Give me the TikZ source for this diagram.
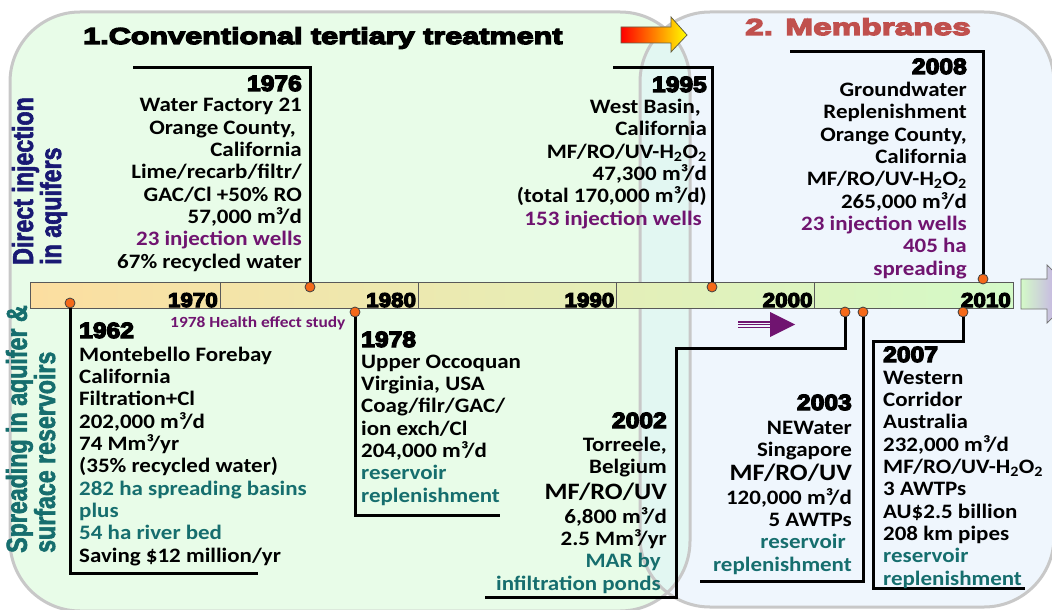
\documentclass[tikz,border=0pt]{standalone}
\usepackage{fontspec}
\setmainfont{Carlito}[BoldFeatures={FakeStretch=1.12}]
\newfontfamily\heavyfam{Liberation Sans}[BoldFeatures={FakeBold=6,FakeStretch=1.12}]
\newfontfamily\titlefam{Liberation Sans}[BoldFeatures={FakeBold=6,FakeStretch=1.33}]
\newfontfamily\membfam{Liberation Sans}[BoldFeatures={FakeBold=6,FakeStretch=1.45}]
\newfontfamily\narrowfam{Liberation Sans}[BoldFeatures={FakeBold=2,FakeStretch=0.8}]
\usetikzlibrary{positioning}

\definecolor{panelgreen}{RGB}{232,252,232}
\definecolor{panelblue}{RGB}{239,246,253}
\definecolor{overlapcyan}{RGB}{226,247,242}
\definecolor{panelline}{RGB}{200,200,200}
\definecolor{dotorange}{RGB}{245,105,25}
\definecolor{wellpurple}{RGB}{112,20,112}
\definecolor{basinteal}{RGB}{22,110,110}
\definecolor{navytext}{RGB}{25,25,115}
\definecolor{memred}{RGB}{192,80,77}
\definecolor{barpeach}{RGB}{252,222,160}
\definecolor{baryellow}{RGB}{242,238,188}
\definecolor{bargreen}{RGB}{212,250,200}
\definecolor{arrowlilac}{RGB}{190,140,245}

\newcommand{\yearfont}{\heavyfam\bfseries\fontsize{22}{24}\selectfont}
\newcommand{\tickfont}{\heavyfam\bfseries\fontsize{20}{22}\selectfont}
\newcommand{\infofont}{\bfseries\fontsize{20.5}{22.3}\selectfont}
\newcommand{\bigfont}{\bfseries\fontsize{23.5}{26}\selectfont}
\newcommand{\notefont}{\bfseries\fontsize{15.5}{17}\selectfont}
\newcommand{\wells}[1]{\textcolor{wellpurple}{#1}}
\newcommand{\basin}[1]{\textcolor{basinteal}{#1}}

\begin{document}
\begin{tikzpicture}[x=1pt,y=-1pt,
    panel/.style={draw=panelline, line width=3pt, rounded corners=70pt},
    dot/.style={circle, draw=black!75, fill=dotorange, line width=0.8pt, inner sep=0pt, minimum size=10pt},
    bracket/.style={line width=3pt},
    yearhead/.style={font=\yearfont, inner sep=0pt},
    infoR/.style={font=\infofont, align=right, inner sep=0pt, anchor=base east},
    infoL/.style={font=\infofont, align=left, inner sep=0pt, anchor=base west},
    ticklabel/.style={font=\tickfont, inner sep=0pt, anchor=base east},
    titletext/.style={inner sep=0pt, anchor=base west},
    sidelabel/.style={align=left, inner sep=0pt, anchor=base west, rotate=90}]
\useasboundingbox (0,0) rectangle (1052,610);

\path[panel, draw=none, fill=panelgreen] (10,12) rectangle (690,611);
\path[panel, draw=none, fill=panelblue] (640,12) rectangle (1054,607);
\begin{scope}
  \clip[rounded corners=70pt] (10,12) rectangle (690,611);
  \fill[overlapcyan, rounded corners=70pt] (640,12) rectangle (1054,607);
\end{scope}
\draw[panel] (10,12) rectangle (690,611);
\draw[panel] (640,12) rectangle (1054,607);

\node[titletext, font=\titlefam\bfseries\fontsize{23}{26}\selectfont] (conv) at (83,44) {1.Conventional tertiary treatment};
\node[titletext, font=\membfam\bfseries\fontsize{23}{26}\selectfont, text=memred] (memb) at (745,35) {2. Membranes};
\shadedraw[left color=red, right color=yellow, draw=black!70!yellow, line width=0.8pt]
  (621,27) -- (671,27) -- (671,17) -- (687,35) -- (671,52) -- (671,43) -- (621,43) -- cycle;

\node[sidelabel, font=\narrowfam\bfseries\fontsize{29}{28}\selectfont, text=navytext] (direct) at (61,265) {Direct injection\\in aquifers};
\node[sidelabel, font=\narrowfam\bfseries\fontsize{29}{25}\selectfont, text=basinteal] (spread) at (55,553) {Spreading in aquifer \&\\surface reservoirs};

\shade[left color=barpeach, middle color=baryellow, right color=bargreen] (30,282) rectangle (1013,308);
\draw[black!65, line width=0.8pt] (30,282) rectangle (1013,308);
\foreach \yr [count=\i from 0] in {1970,1980,1990,2000,2010} {
  \draw[black!65, line width=0.8pt] (220+198.25*\i,282) -- (220+198.25*\i,308);
  \node[ticklabel] (t\yr) at (218+198.25*\i,307) {\yr};
}
\shadedraw[left color=bargreen, right color=arrowlilac, draw=black!55, line width=0.8pt]
  (1021,279) -- (1047,279) -- (1047,265) -- (1077,294) -- (1047,323) -- (1047,309) -- (1021,309) -- cycle;
\foreach \dy in {-2.6,0,2.6}
  \draw[wellpurple, line width=1.2pt] (738,324.5+\dy) -- (772,324.5+\dy);
\fill[wellpurple] (770,312) -- (795,324.5) -- (770,337) -- cycle;

\node[dot] (d1962) at (70,303) {};
\node[dot] (d1976) at (310,287) {};
\node[dot] (d1978) at (355,312) {};
\node[dot] (d1995) at (712,287) {};
\node[dot] (d2002) at (845,312) {};
\node[dot] (d2003) at (863,312) {};
\node[dot] (d2007) at (963,312) {};
\node[dot] (d2008) at (983,279) {};

\coordinate (e1962) at (258,573);
\coordinate (e1976) at (133,68);
\coordinate (e1978) at (500,515);
\coordinate (e1995) at (613,68);
\coordinate (k2002) at (676,348);
\coordinate (e2002) at (485,597);
\coordinate (e2003) at (700,581);
\coordinate (k2007) at (873,341);
\coordinate (e2007) at (1025,588);
\coordinate (e2008) at (790,52);

\draw[bracket] (d1962.south) |- (e1962);
\draw[bracket] (d1976.north) |- (e1976);
\draw[bracket] (d1978.south) |- (e1978);
\draw[bracket] (d1995.north) |- (e1995);
\draw[bracket] (d2002.south) |- (k2002) |- (e2002);
\draw[bracket] (d2003.south) |- (e2003);
\draw[bracket] (d2007.south) |- (k2007) |- (e2007);
\draw[bracket] (d2008.north) |- (e2008);

\node[yearhead, anchor=base east] (y1976) at (302,91) {1976};
\node[infoR] (b1976) at (302,268)
  {Water Factory 21\\ Orange County,\kern6pt\\ California\\ Lime/recarb/filtr/\\ GAC/Cl +50\% RO\\
   57,000 m³/d\\ \wells{23 injection wells}\\ 67\% recycled water};

\node[yearhead, anchor=base east] (y1995) at (707,92) {1995};
\node[infoR] (b1995) at (707,225)
  {West Basin,\kern6pt\\ California\\ MF/RO/UV-H\textsubscript{2}O\textsubscript{2}\\ 47,300 m³/d\\
   (total 170,000 m³/d)\\ \wells{153 injection wells\kern5pt}};

\node[yearhead, anchor=base east] (y2008) at (967,74) {2008};
\node[infoR] (b2008) at (967,275)
  {Groundwater\\ Replenishment\\ Orange County,\\ California\\ MF/RO/UV-H\textsubscript{2}O\textsubscript{2}\\
   265,000 m³/d\\ \wells{23 injection wells}\\ \wells{405 ha}\\ \wells{spreading}};

\node[yearhead, anchor=base west] (y1962) at (79,338) {1962};
\node[infoL] (b1962) at (79,562)
  {Montebello Forebay\\ California\\ Filtration+Cl\\ 202,000 m³/d\\ 74 Mm³/yr\\ (35\% recycled water)\\
   \basin{282 ha spreading basins}\\ \basin{plus}\\ \basin{54 ha river bed}\\ Saving \$12 million/yr};

\node[font=\notefont, text=wellpurple, inner sep=0pt, anchor=base west] (health) at (170,327) {1978 Health effect study};

\node[yearhead, anchor=base west] (y1978) at (361,347) {1978};
\node[infoL] (b1978) at (361,502)
  {Upper Occoquan\\ Virginia, USA\\ Coag/filr/GAC/\\ ion exch/Cl\\ 204,000 m³/d\\
   \basin{reservoir}\\ \basin{replenishment}};

\node[yearhead, anchor=base east] (y2002) at (667,428) {2002};
\node[infoR] (b2002) at (667,590)
  {Torreele,\\ Belgium\\[3.5pt] {\bigfont MF/RO/UV}\\[1.5pt] 6,800 m³/d\\ 2.5 Mm³/yr\\
   \basin{MAR by\kern6pt}\\ \basin{infiltration ponds\kern6pt}};

\node[yearhead, anchor=base east] (y2003) at (852,410) {2003};
\node[infoR] (b2003) at (852,571)
  {NEWater\\ Singapore\\[1.5pt] {\bigfont MF/RO/UV}\\[1.5pt] 120,000 m³/d\\ 5 AWTPs\\
   \basin{reservoir\kern6pt}\\ \basin{replenishment}};

\node[yearhead, anchor=base west] (y2007) at (883,362) {2007};
\node[infoL] (b2007) at (883,585)
  {Western\\ Corridor\\ Australia\\ 232,000 m³/d\\ MF/RO/UV-H\textsubscript{2}O\textsubscript{2}\\ 3 AWTPs\\
   AU\$2.5 billion\\ 208 km pipes\\ \basin{reservoir}\\ \basin{replenishment}};
\end{tikzpicture}
\end{document}
